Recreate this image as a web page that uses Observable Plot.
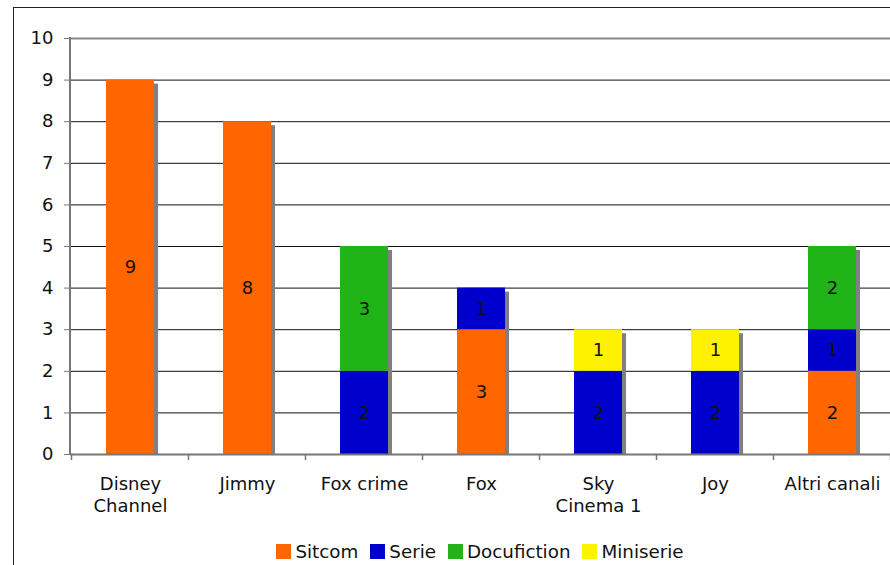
<!DOCTYPE html>
<html>
<head>
<meta charset="utf-8">
<script src="https://cdn.jsdelivr.net/npm/d3@7"></script>
<script src="https://cdn.jsdelivr.net/npm/@observablehq/plot@0.6"></script>
<style>
  html, body { margin: 0; padding: 0; background: #fff; }
  #wrap { position: relative; width: 890px; height: 565px; overflow: hidden; font-family: "DejaVu Sans", Verdana, sans-serif; }
  #legend { position: absolute; left: 70px; width: 820px; top: 541px; text-align: center; font-size: 18.3px; color: #111; white-space: nowrap; }
  #legend span.item { display: inline-flex; align-items: center; margin: 0 6px; }
  #legend span.sw { display: inline-block; width: 15px; height: 15px; margin-right: 4px; }
</style>
</head>
<body>
<div id="wrap"><div id="legend"></div></div>
<script>
// Programmi per canale, suddivisi per genere
const channels = ["Disney\nChannel", "Jimmy", "Fox crime", "Fox", "Sky\nCinema 1", "Joy", "Altri canali"];
const series = ["Sitcom", "Serie", "Docufiction", "Miniserie"];
const colors = ["#FF6600", "#0000CC", "#21B418", "#FFF200"];
const sitcom      = [9, 8, 0, 3, 0, 0, 2];
const serie       = [0, 0, 2, 1, 2, 2, 1];
const docufiction = [0, 0, 3, 0, 0, 0, 2];
const miniserie   = [0, 0, 0, 0, 1, 1, 0];
const yTicks = [0, 1, 2, 3, 4, 5, 6, 7, 8, 9, 10];

const valuesBySeries = [sitcom, serie, docufiction, miniserie];
const rows = [];
series.forEach((s, si) => {
  channels.forEach((c, ci) => {
    const v = valuesBySeries[si][ci];
    if (v > 0) rows.push({channel: c, series: s, value: v});
  });
});
const totals = channels.map((c, ci) => ({channel: c, total: valuesBySeries.reduce((a, arr) => a + arr[ci], 0)}));

const font = "DejaVu Sans, Verdana, sans-serif";
const fs = 18;

const chart = Plot.plot({
  width: 890,
  height: 565,
  marginLeft: 70,
  marginRight: -2,
  marginTop: 38,
  marginBottom: 111,
  style: {fontFamily: font, fontSize: fs + "px", color: "#111", background: "transparent"},
  x: {domain: channels, paddingInner: 0.59, paddingOuter: 0.295, label: null},
  y: {domain: [0, 10], label: null},
  color: {domain: series, range: colors},
  marks: [
    Plot.gridY(yTicks.filter(d => d > 0 && d < 10), {stroke: "#111", strokeOpacity: 1, strokeWidth: 1}),
    Plot.ruleY([10], {stroke: "#888", strokeWidth: 2}),
    // drop shadow behind each column
    Plot.barY(totals, {x: "channel", y: "total", fill: "#808080", dx: 4, dy: 4, clip: true}),
    Plot.barY(rows, {x: "channel", y: "value", fill: "series", z: "series"}),
    Plot.text(rows, Plot.stackY({x: "channel", y: "value", z: "series", text: "value", fill: "#111", fontSize: fs})),
    Plot.ruleY([0], {stroke: "#777", strokeWidth: 2}),
    Plot.axisY({ticks: yTicks, tickSize: 6, tickPadding: 11, stroke: "#777", fill: "#111", fontSize: fs, label: null}),
    Plot.axisX({tickSize: 0, tickPadding: 20, lineHeight: 1.22, fill: "#111", fontSize: fs, label: null})
  ]
});

const wrap = document.getElementById("wrap");
wrap.insertBefore(chart, wrap.firstChild);

// left axis line, category boundary ticks and outer border
const svg = d3.select(chart);
const xs = chart.scale("x");
const ys = chart.scale("y");
const step = xs.step ?? ((xs.range[1] - xs.range[0]) / channels.length);
const y0 = ys.apply(0), y10 = ys.apply(10);
const left = xs.range[0];
svg.append("line")
  .attr("x1", left).attr("x2", left).attr("y1", y10 - 1).attr("y2", y0 + 1)
  .attr("stroke", "#777").attr("stroke-width", 2);
const bounds = channels.map(c => xs.apply(c) + xs.bandwidth / 2 - step / 2);
bounds.push(bounds[bounds.length - 1] + step);
svg.append("g").selectAll("line").data(bounds).join("line")
  .attr("x1", d => d).attr("x2", d => d).attr("y1", y0).attr("y2", y0 + 6)
  .attr("stroke", "#777").attr("stroke-width", 1.5);
svg.append("rect")
  .attr("x", 13.5).attr("y", 7.5).attr("width", 1000).attr("height", 1000)
  .attr("fill", "none").attr("stroke", "#222").attr("stroke-width", 1);

// legend
const legend = d3.select("#legend");
series.forEach((s, i) => {
  const item = legend.append("span").attr("class", "item");
  item.append("span").attr("class", "sw").style("background", colors[i]);
  item.append("span").text(s);
});
</script>
</body>
</html>
